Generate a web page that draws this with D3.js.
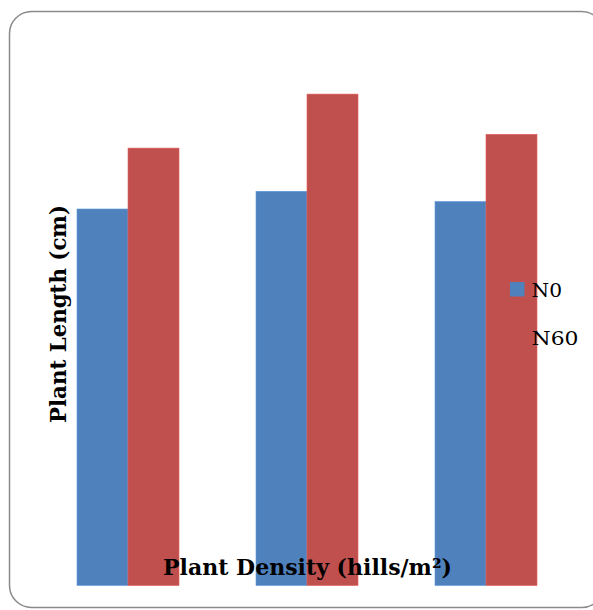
<!DOCTYPE html>
<html>
<head>
<meta charset="utf-8">
<script src="https://cdn.jsdelivr.net/npm/d3@7"></script>
<style>
  html, body { margin: 0; padding: 0; background: #ffffff; overflow: hidden; }
  svg { display: block; overflow: hidden; }
</style>
</head>
<body>
<svg id="chart" width="593" height="610"></svg>
<script>
// Plant length by planting density, for two nitrogen levels
const categories = ["D1", "D2", "D3"];
const seriesNames = ["N0", "N60"];
const n0Values = [62.75, 65.7, 64.0];
const n60Values = [72.9, 81.9, 75.2];
const seriesColors = ["#4F81BD", "#C0504D"];

const svg = d3.select("#chart");
const serif = "'DejaVu Serif', 'Liberation Serif', serif";

// Chart frame with rounded corners; the right side sits just past the page edge
svg.append("rect")
  .attr("x", 9.5).attr("y", 11.5)
  .attr("width", 594).attr("height", 596)
  .attr("rx", 22).attr("ry", 22)
  .attr("fill", "none")
  .attr("stroke", "#8a8a8a")
  .attr("stroke-width", 1.5);

const plot = { left: 38.5, right: 575.5, top: 45.5, bottom: 585.5 };

const x = d3.scaleBand()
  .domain(categories)
  .range([plot.left, plot.right])
  .paddingInner(77 / 179)
  .paddingOuter(38.5 / 179);

const xs = d3.scaleBand()
  .domain(seriesNames)
  .range([0, x.bandwidth()])
  .padding(0);

const y = d3.scaleLinear()
  .domain([0, 90])
  .range([plot.bottom, plot.top]);

const rows = categories.map((c, i) => ({
  cat: c,
  values: [
    { name: "N0", value: n0Values[i], color: seriesColors[0] },
    { name: "N60", value: n60Values[i], color: seriesColors[1] }
  ]
}));

const groups = svg.append("g").selectAll("g")
  .data(rows)
  .join("g")
  .attr("transform", d => `translate(${x(d.cat)},0)`);

groups.selectAll("rect")
  .data(d => d.values)
  .join("rect")
  .attr("x", d => xs(d.name))
  .attr("y", d => y(d.value))
  .attr("width", xs.bandwidth())
  .attr("height", d => y(0) - y(d.value))
  .attr("fill", d => d.color)
  .attr("stroke", d => d3.color(d.color).brighter(0.5))
  .attr("stroke-width", 0.6);

// Axis titles
svg.append("text")
  .attr("x", 163)
  .attr("y", 575)
  .attr("font-family", serif)
  .attr("font-weight", "bold")
  .attr("font-size", 21.5)
  .attr("textLength", 289)
  .attr("lengthAdjust", "spacingAndGlyphs")
  .attr("fill", "#000")
  .text("Plant Density (hills/m²)");

svg.append("text")
  .attr("transform", "translate(66,423) rotate(-90)")
  .attr("font-family", serif)
  .attr("font-weight", "bold")
  .attr("font-size", 21.5)
  .attr("textLength", 218)
  .attr("lengthAdjust", "spacingAndGlyphs")
  .attr("fill", "#000")
  .text("Plant Length (cm)");

// Legend
const legendWidths = [30.5, 47];
const legend = svg.append("g");
seriesNames.forEach((name, i) => {
  const yy = 297 + i * 48;
  legend.append("rect")
    .attr("x", 510).attr("y", yy - 15)
    .attr("width", 14.5).attr("height", 14.5)
    .attr("fill", seriesColors[i]);
  legend.append("text")
    .attr("x", 531.5).attr("y", yy)
    .attr("font-family", serif)
    .attr("font-size", 18.5)
    .attr("textLength", legendWidths[i])
    .attr("lengthAdjust", "spacingAndGlyphs")
    .attr("fill", "#000")
    .text(name);
});
</script>
</body>
</html>
